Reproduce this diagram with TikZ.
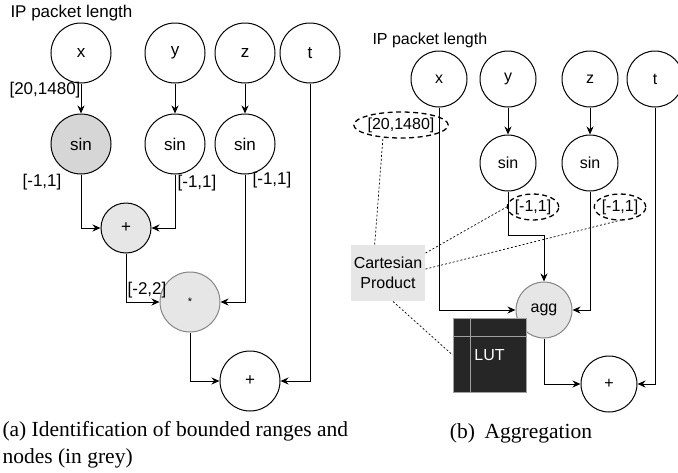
\documentclass[tikz,border=0pt]{standalone}
\usepackage{fontspec}
\setmainfont{Liberation Serif}
\setsansfont{Liberation Sans}
\usetikzlibrary{arrows.meta,shapes.geometric}

\definecolor{boundgrey}{HTML}{D6D6D6}
\definecolor{nodegrey}{HTML}{E6E6E6}
\definecolor{edgegrey}{HTML}{858585}
\definecolor{lutfill}{HTML}{262626}
\definecolor{lutline}{HTML}{A0A0A0}

\begin{document}
\begin{tikzpicture}[x=1pt,y=-1pt,line width=1pt,
  font=\sffamily\fontsize{17}{20}\selectfont,
  op/.style={circle,draw,minimum size=60pt,inner sep=0pt},
  opb/.style={op,minimum size=56pt},
  arr/.style={-{Stealth[length=8pt,width=7pt]}},
  lbl/.style={inner sep=0pt},
  rangebox/.style={ellipse,draw,dash pattern=on 5pt off 3.5pt,line width=1.3pt,inner sep=0pt,minimum height=26pt},
  hint/.style={dash pattern=on 2pt off 2pt,line width=0.7pt},
  caption/.style={font=\rmfamily\fontsize{21.5}{27}\selectfont,inner sep=0pt}]
\useasboundingbox (0,0) rectangle (678,472);

% (a) bounded ranges
\node[lbl,anchor=west] (ipa) at (10,13) {IP packet length};
\node[op] (xa) at (81,53) {x};
\node[op] (ya) at (175,53) {y};
\node[op] (za) at (245,53) {z};
\node[op] (ta) at (310,53) {t};
\node[op,fill=boundgrey] (sinxa) at (81,144) {sin};
\node[op] (sinya) at (175,144) {sin};
\node[op] (sinza) at (245,144) {sin};
\node[op,minimum size=50pt,fill=nodegrey] (adda) at (126,228) {+};
\node[op,draw=edgegrey,fill=nodegrey,font=\sffamily\fontsize{11}{13}\selectfont] (mula) at (190,302) {*};
\node[op] (suma) at (250,381) {+};

\draw[arr] (xa) -- (sinxa);
\draw[arr] (ya) -- (sinya);
\draw[arr] (za) -- (sinza);
\draw[arr] (sinxa) |- (adda);
\draw[arr] (sinya) |- (adda);
\draw[arr] (adda) |- (mula);
\draw[arr] (sinza) |- (mula);
\draw[arr] (mula) |- (suma);
\draw[arr] (ta) |- (suma);

\node[lbl] (rxa) at (45,90) {[20,1480]};
\node[lbl] (rsinxa) at (42,182) {[-1,1]};
\node[lbl] (rsinya) at (197,183) {[-1,1]};
\node[lbl] (rsinza) at (272,180) {[-1,1]};
\node[lbl] (radda) at (147,290) {[-2,2]};

\node[caption,anchor=base west] (capa) at (2,436.5) {(a) Identification of bounded ranges and};
\node[caption,anchor=base west] (capa2) at (2,463) {nodes (in grey)};

% (b) aggregation
\begin{scope}[font=\sffamily\fontsize{16}{19.5}\selectfont]
\node[lbl,anchor=west] (ipb) at (372,40) {IP packet length};
\node[opb] (xb) at (439,79) {x};
\node[opb] (yb) at (508,79) {y};
\node[opb] (zb) at (590,79) {z};
\node[opb] (tb) at (655,79) {t};
\node[opb] (sinyb) at (508,163) {sin};
\node[opb] (sinzb) at (590,163) {sin};
\node[rangebox,minimum width=92pt] (rxb) at (401,125) {[20,1480]};
\node[rangebox,minimum width=50pt] (rsinyb) at (533,207) {[-1,1]};
\node[rangebox,minimum width=50pt] (rsinzb) at (620,207) {[-1,1]};
\node[opb,draw=edgegrey,fill=nodegrey] (agg) at (544,310) {agg};
\node[fill=nodegrey,align=center,minimum width=74pt,minimum height=56pt,inner sep=0pt] (cart) at (388,273) {Cartesian\\Product};
\node[draw=lutline,fill=lutfill,text=white,minimum width=73pt,minimum height=74pt,inner sep=0pt,line width=0.8pt] (lut) at (489.5,355) {LUT};
\draw[lutline,line width=0.8pt] ([xshift=18pt]lut.north west) -- ([xshift=18pt]lut.south west)
  ([yshift=-19pt]lut.north west) -- ([yshift=-19pt]lut.north east);
\node[opb] (sumb) at (609,384) {+};
\coordinate (bendy) at (544,235);

\draw[arr] (yb) -- (sinyb);
\draw[arr] (zb) -- (sinzb);
\draw[arr] (xb) |- (agg);
\draw[arr] (sinyb) |- (bendy) -- (agg);
\draw[arr] (sinzb) |- (agg);
\draw[arr] (agg) |- (sumb);
\draw[arr] (tb) |- (sumb);

\draw[hint] (cart.115) -- (rxb.215);
\draw[hint] (cart.28) -- (rsinyb.west);
\draw[hint] (cart.6) -- (rsinzb.265);
\draw[hint] (cart.280) -- (lut.west);
\end{scope}

\node[caption,anchor=base] (capb) at (521,438) {(b)\hspace{0.45em}Aggregation};
\end{tikzpicture}
\end{document}
